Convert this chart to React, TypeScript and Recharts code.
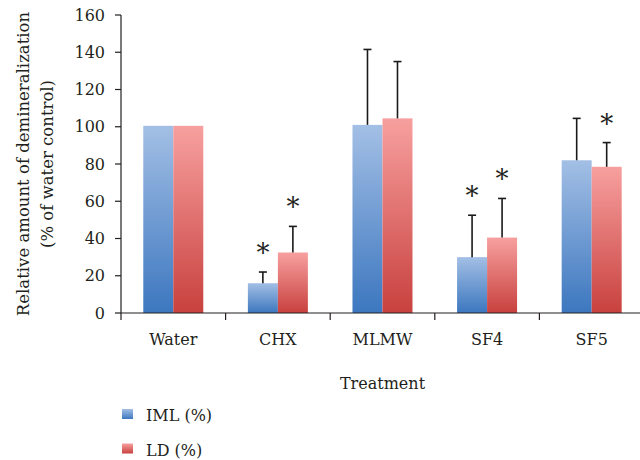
import { Bar, BarChart, Label, XAxis, YAxis } from "recharts";

const categories = ["Water", "CHX", "MLMW", "SF4", "SF5"];
const imlValues = [100.5, 16, 101, 30, 82];
const ldValues = [100.5, 32.5, 104.5, 40.5, 78.5];
const imlErrors = [0, 6, 40.5, 22.5, 22.5];
const ldErrors = [0, 14, 30.5, 21, 13];
const imlSignificant = [false, true, false, true, false];
const ldSignificant = [false, true, false, true, true];
const yTicks = [0, 20, 40, 60, 80, 100, 120, 140, 160];

const data = categories.map((treatment, i) => ({
  treatment,
  iml: imlValues[i],
  ld: ldValues[i],
  imlErr: imlErrors[i],
  ldErr: ldErrors[i],
  imlSig: imlSignificant[i],
  ldSig: ldSignificant[i],
}));

const FONT = "DejaVu Serif, serif";
const INK = "#231f20";
const TICK_SIZE = 6;
const TICK_MARGIN = 15;

const legendItems = [
  { name: "IML (%)", top: "#a3bfe5", bottom: "#3c77bf" },
  { name: "LD (%)", top: "#f7a09f", bottom: "#c8413e" },
];

// bar + one-sided error bar + significance star, all from the bar's own scale
function makeBarShape(gradientId: string, valueKey: string, errKey: string, sigKey: string) {
  return function BarWithError(props: any) {
    const { x, y, width, height, payload } = props;
    const value = payload[valueKey];
    const pxPerUnit = value ? height / value : 0;
    const err = payload[errKey] ?? 0;
    const errTop = y - err * pxPerUnit;
    const cx = x + width / 2;
    return (
      <g>
        <rect x={x} y={y} width={width} height={height} fill={`url(#${gradientId})`} />
        {err > 0 && (
          <g stroke="#1a1a1a" strokeWidth={1.6}>
            <line x1={cx} x2={cx} y1={y} y2={errTop} />
            <line x1={cx - 4} x2={cx + 4} y1={errTop} y2={errTop} />
          </g>
        )}
        {payload[sigKey] && (
          <text x={cx} y={errTop - 10} textAnchor="middle" fontSize={26} fontFamily={FONT} fill={INK}>
            *
          </text>
        )}
      </g>
    );
  };
}

function CategoryTick(props: any) {
  const { x, y, payload } = props;
  const axisY = y - TICK_SIZE - TICK_MARGIN;
  const half = payload?.offset ?? 0;
  return (
    <g>
      <line x1={x - half} x2={x - half} y1={axisY} y2={axisY + 7} stroke={INK} strokeWidth={1.2} />
      <text x={x} y={y} dy="0.71em" textAnchor="middle" fontSize={16} fontFamily={FONT} fill={INK}>
        {payload.value}
      </text>
    </g>
  );
}

function YLabel(props: any) {
  const vb = props.viewBox ?? { y: 15, height: 298 };
  const cy = vb.y + vb.height / 2;
  return (
    <g fontFamily={FONT} fontSize={16.5} fill={INK} textAnchor="middle">
      <text transform={`translate(29, ${cy}) rotate(-90)`}>Relative amount of demineralization</text>
      <text transform={`translate(53, ${cy}) rotate(-90)`}>(% of water control)</text>
    </g>
  );
}

const ImlShape = makeBarShape("gradIml", "iml", "imlErr", "imlSig");
const LdShape = makeBarShape("gradLd", "ld", "ldErr", "ldSig");

export default function App() {
  return (
    <div style={{ position: "relative", width: 640, height: 460, overflow: "hidden", background: "#fff" }}>
      <style>{"body{margin:0}"}</style>
      <BarChart
        width={644}
        height={460}
        data={data}
        margin={{ top: 15, right: 0, left: 0, bottom: 67 }}
        barCategoryGap="21.3%"
        barGap={0}
      >
        <defs>
          <linearGradient id="gradIml" x1="0" y1="0" x2="0" y2="1">
            <stop offset="0%" stopColor="#a3bfe5" />
            <stop offset="100%" stopColor="#3c77bf" />
          </linearGradient>
          <linearGradient id="gradLd" x1="0" y1="0" x2="0" y2="1">
            <stop offset="0%" stopColor="#f7a09f" />
            <stop offset="100%" stopColor="#c8413e" />
          </linearGradient>
        </defs>
        <XAxis
          dataKey="treatment"
          height={80}
          axisLine={{ stroke: INK, strokeWidth: 1.2 }}
          tickLine={false}
          tickSize={TICK_SIZE}
          tickMargin={TICK_MARGIN}
          tick={<CategoryTick />}
          interval={0}
        >
          <Label
            value="Treatment"
            position="insideBottom"
            offset={4}
            style={{ fontFamily: FONT, fontSize: 16, fill: INK }}
          />
        </XAxis>
        <YAxis
          width={121}
          domain={[0, 160]}
          ticks={yTicks}
          interval={0}
          axisLine={{ stroke: INK, strokeWidth: 1.2 }}
          tickLine={{ stroke: INK, strokeWidth: 1.2 }}
          tickSize={6}
          tickMargin={10}
          tick={{ fontFamily: FONT, fontSize: 16, fill: INK }}
        >
          <Label content={<YLabel />} />
        </YAxis>
        <Bar dataKey="iml" name="IML (%)" shape={<ImlShape />} isAnimationActive={false} />
        <Bar dataKey="ld" name="LD (%)" shape={<LdShape />} isAnimationActive={false} />
      </BarChart>
      <svg width={300} height={60} style={{ position: "absolute", left: 0, top: 400 }}>
        <defs>
          {legendItems.map((item, i) => (
            <linearGradient key={i} id={`legGrad${i}`} x1="0" y1="0" x2="0" y2="1">
              <stop offset="0%" stopColor={item.top} />
              <stop offset="100%" stopColor={item.bottom} />
            </linearGradient>
          ))}
        </defs>
        {legendItems.map((item, i) => (
          <g key={item.name} transform={`translate(0, ${i * 34.5})`}>
            <rect x={122} y={9} width={11} height={10} fill={`url(#legGrad${i})`} />
            <text x={146} y={21} fontFamily={FONT} fontSize={16} fill={INK}>
              {item.name}
            </text>
          </g>
        ))}
      </svg>
    </div>
  );
}
